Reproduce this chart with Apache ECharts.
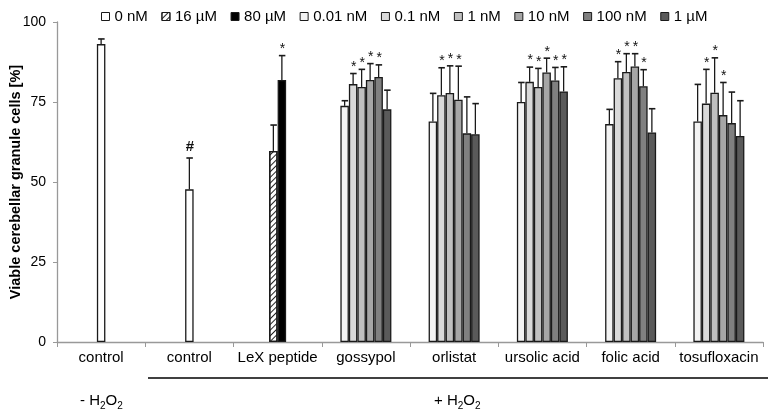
<!DOCTYPE html>
<html>
<head>
<meta charset="utf-8">
<script src="https://cdn.jsdelivr.net/npm/echarts@6/dist/echarts.min.js"></script>
<style>
  html, body { margin: 0; padding: 0; background: #fff; }
  #chart { width: 770px; height: 413px; }
</style>
</head>
<body>
<div id="chart"></div>
<script>
const categories = ['control', 'control', 'LeX peptide', 'gossypol', 'orlistat', 'ursolic acid', 'folic acid', 'tosufloxacin'];
const yTicks = [0, 25, 50, 75, 100];

// controls (0 nM)
const ctrlMean = [93.1, 47.7, null, null, null, null, null, null];
const ctrlErr  = [1.6, 9.8, null, null, null, null, null, null];
const ctrlMark = ['', '#', '', '', '', '', '', ''];

// LeX peptide
const lex16Mean = [null, null, 59.7, null, null, null, null, null];
const lex16Err  = [null, null, 8.1, null, null, null, null, null];
const lex16Mark = ['', '', '', '', '', '', '', ''];
const lex80Mean = [null, null, 81.9, null, null, null, null, null];
const lex80Err  = [null, null, 7.6, null, null, null, null, null];
const lex80Mark = ['', '', '*', '', '', '', '', ''];

// compounds, per concentration
const c001Mean = [null, null, null, 73.8, 68.9, 75.0, 68.1, 68.9];
const c001Err  = [null, null, null, 1.6, 8.8, 6.1, 4.6, 11.6];
const c001Mark = ['', '', '', '', '', '', '', ''];
const c01Mean  = [null, null, null, 80.6, 77.1, 81.3, 82.4, 74.5];
const c01Err   = [null, null, null, 3.3, 8.6, 4.6, 5.2, 10.7];
const c01Mark  = ['', '', '', '*', '*', '*', '*', '*'];
const c1Mean   = [null, null, null, 79.7, 77.8, 79.7, 84.4, 77.9];
const c1Err    = [null, null, null, 5.5, 8.5, 5.8, 5.7, 10.9];
const c1Mark   = ['', '', '', '*', '*', '*', '*', '*'];
const c10Mean  = [null, null, null, 81.9, 75.7, 84.2, 86.1, 70.9];
const c10Err   = [null, null, null, 5.1, 10.5, 4.5, 4.0, 10.2];
const c10Mark  = ['', '', '', '*', '*', '*', '*', '*'];
const c100Mean = [null, null, null, 82.8, 65.2, 81.7, 79.9, 68.4];
const c100Err  = [null, null, null, 3.8, 11.4, 4.1, 5.2, 9.7];
const c100Mark = ['', '', '', '*', '', '*', '*', ''];
const c1uMean  = [null, null, null, 72.7, 64.9, 78.3, 65.5, 64.4];
const c1uErr   = [null, null, null, 6.0, 9.6, 7.7, 7.4, 11.0];
const c1uMark  = ['', '', '', '', '', '*', '', ''];

const FONT = "'Liberation Sans', Arial, sans-serif";
const BAR_W = 8.5;
const EDGE = '#1a1a1a';

// groups: each one gets its own (hidden) category axis so bars center in their slot
const groups = [
  { axis: 0, bars: [
    { name: '0 nM', color: '#ffffff', mean: ctrlMean, err: ctrlErr, mark: ctrlMark }
  ]},
  { axis: 1, bars: [
    { name: '16 µM', color: '#ffffff', decal: true, mean: lex16Mean, err: lex16Err, mark: lex16Mark },
    { name: '80 µM', color: '#000000', mean: lex80Mean, err: lex80Err, mark: lex80Mark }
  ]},
  { axis: 2, bars: [
    { name: '0.01 nM', color: '#f3f3f3', mean: c001Mean, err: c001Err, mark: c001Mark },
    { name: '0.1 nM', color: '#d9d9d9', mean: c01Mean, err: c01Err, mark: c01Mark },
    { name: '1 nM', color: '#c0c0c0', mean: c1Mean, err: c1Err, mark: c1Mark },
    { name: '10 nM', color: '#a6a6a6', mean: c10Mean, err: c10Err, mark: c10Mark },
    { name: '100 nM', color: '#808080', mean: c100Mean, err: c100Err, mark: c100Mark },
    { name: '1 µM', color: '#5a5a5a', mean: c1uMean, err: c1uErr, mark: c1uMark }
  ]}
];

const series = [];
const legendNames = [];
groups.forEach(g => {
  g.bars.forEach((b, slot) => {
    legendNames.push(b.name);
    const itemStyle = { color: b.color, borderColor: EDGE, borderWidth: 1.3 };
    if (b.decal) {
      itemStyle.decal = {
        symbol: 'rect', symbolSize: 1, color: '#222',
        dashArrayX: [1, 0], dashArrayY: [1, 2.5], rotation: -Math.PI / 4
      };
    }
    series.push({
      type: 'bar', name: b.name, xAxisIndex: g.axis,
      barWidth: BAR_W, barGap: '0%',
      itemStyle, emphasis: { disabled: true },
      data: b.mean
    });
    const n = g.bars.length;
    const offset = (slot - (n - 1) / 2) * BAR_W;
    const data = [];
    b.mean.forEach((m, i) => { if (m != null) data.push([i, m, m + b.err[i]]); });
    series.push({
      type: 'custom', name: b.name, xAxisIndex: g.axis, z: 5,
      silent: true,
      data,
      renderItem(params, api) {
        const cat = api.value(0);
        const base = api.coord([cat, api.value(1)]);
        const top = api.coord([cat, api.value(2)]);
        const x = base[0] + offset;
        const kids = [
          { type: 'line', shape: { x1: x, y1: base[1], x2: x, y2: top[1] }, style: { stroke: EDGE, lineWidth: 1.3 } },
          { type: 'line', shape: { x1: x - 3, y1: top[1], x2: x + 3.5, y2: top[1] }, style: { stroke: EDGE, lineWidth: 1.6 } }
        ];
        const mk = b.mark[cat];
        if (mk) {
          kids.push({
            type: 'text',
            style: {
              x: x + 0.5, y: mk === '#' ? top[1] - 4 : top[1] + 0.5, text: mk,
              align: 'center', verticalAlign: 'bottom',
              font: (mk === '#' ? 'bold 15px ' : '14px ') + FONT, fill: '#111'
            }
          });
        }
        return { type: 'group', children: kids };
      }
    });
  });
});

function xAxisDef(show) {
  return {
    type: 'category', data: categories, show,
    axisLine: { lineStyle: { color: '#999', width: 1.3 } },
    axisTick: { show: true, length: 5, lineStyle: { color: '#999' } },
    axisLabel: { color: '#000', fontSize: 15, fontFamily: FONT, margin: 8, interval: 0 }
  };
}

const chart = echarts.init(document.getElementById('chart'), null, { renderer: 'canvas' });
chart.setOption({
  animation: false,
  backgroundColor: '#fff',
  textStyle: { fontFamily: FONT },
  legend: {
    data: legendNames,
    left: 96, top: 4,
    itemWidth: 8, itemHeight: 8, itemGap: 13.6,
    icon: 'rect',
    itemStyle: { borderColor: EDGE, borderWidth: 1 },
    textStyle: { color: '#000', fontSize: 15, fontFamily: FONT },
    selectedMode: false
  },
  grid: { left: 57, right: 7, top: 22, bottom: 71, containLabel: false, outerBoundsMode: 'none' },
  xAxis: [xAxisDef(true), xAxisDef(false), xAxisDef(false)],
  yAxis: {
    type: 'value', min: yTicks[0], max: yTicks[yTicks.length - 1], interval: 25,
    name: 'Viable cerebellar granule cells [%]',
    nameLocation: 'middle', nameGap: 34, nameMoveOverlap: false,
    nameTextStyle: { color: '#000', fontSize: 14.5, fontWeight: 'bold', fontFamily: FONT },
    axisLine: { show: true, lineStyle: { color: '#999', width: 1.3 } },
    axisTick: { show: true, length: 4, lineStyle: { color: '#999' } },
    axisLabel: { color: '#000', fontSize: 14, fontFamily: FONT, margin: 11 },
    splitLine: { show: false }
  },
  graphic: [
    { type: 'line', shape: { x1: 148, y1: 378, x2: 768, y2: 378 }, style: { stroke: '#000', lineWidth: 1.5 } },
    {
      type: 'text', left: 80, top: 393,
      style: {
        text: '{n|- H}{s|2}{n|O}{s|2}',
        rich: {
          n: { fontSize: 15, fontFamily: FONT, fill: '#000', verticalAlign: 'bottom' },
          s: { fontSize: 10, fontFamily: FONT, fill: '#000', verticalAlign: 'bottom', padding: [0, 0, -3, 0] }
        }
      }
    },
    {
      type: 'text', left: 434, top: 393,
      style: {
        text: '{n|+ H}{s|2}{n|O}{s|2}',
        rich: {
          n: { fontSize: 15, fontFamily: FONT, fill: '#000', verticalAlign: 'bottom' },
          s: { fontSize: 10, fontFamily: FONT, fill: '#000', verticalAlign: 'bottom', padding: [0, 0, -3, 0] }
        }
      }
    }
  ],
  series
});
</script>
</body>
</html>
